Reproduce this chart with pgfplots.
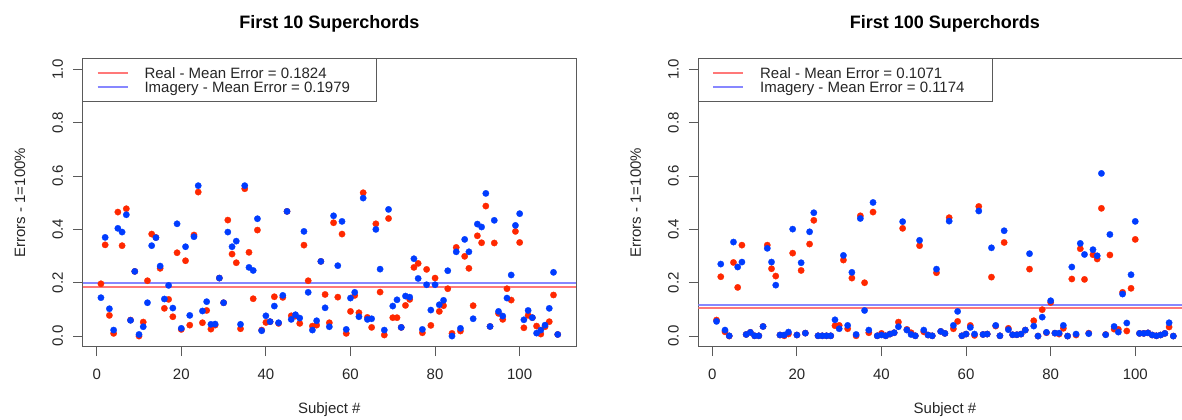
\documentclass[border=0pt]{standalone}
\usepackage{fontspec}
\setmainfont{Liberation Sans}
\usepackage{pgfplots}
\pgfplotsset{compat=1.18}
\usepackage{pgfplotstable}
\definecolor{ptred}{RGB}{255,40,0}
\definecolor{ptblue}{RGB}{0,60,255}
\definecolor{meanred}{RGB}{255,120,120}
\definecolor{meanblue}{RGB}{135,135,255}
\definecolor{boxc}{RGB}{90,90,90}

\pgfplotstableread{
s real imag
1 0.196 0.144
2 0.342 0.370
3 0.0775 0.1025
4 0.010 0.0225
5 0.465 0.404
6 0.339 0.390
7 0.4775 0.455
8 0.060 0.059
9 0.2425 0.2425
10 0.000 0.006
11 0.0525 0.035
12 0.2075 0.125
13 0.3825 0.339
14 0.370 0.369
15 0.254 0.2625
16 0.104 0.139
17 0.1375 0.190
18 0.0725 0.105
19 0.3125 0.421
20 0.025 0.029
21 0.2825 0.335
22 0.041 0.0775
23 0.379 0.3725
24 0.540 0.564
25 0.050 0.094
26 0.096 0.129
27 0.026 0.044
28 0.041 0.045
29 0.2175 0.2175
30 0.125 0.125
31 0.435 0.390
32 0.3075 0.335
33 0.275 0.356
34 0.0275 0.044
35 0.5525 0.564
36 0.314 0.2575
37 0.140 0.246
38 0.3975 0.440
39 0.0225 0.020
40 0.051 0.076
41 0.054 0.054
42 0.1475 0.1125
43 0.0475 0.050
44 0.145 0.1525
45 0.4675 0.4675
46 0.076 0.0625
47 0.075 0.080
48 0.0475 0.0675
49 0.341 0.3925
50 0.2075 0.164
51 0.0375 0.0225
52 0.041 0.0575
53 0.280 0.280
54 0.156 0.106
55 0.050 0.035
56 0.425 0.451
57 0.146 0.264
58 0.3825 0.430
59 0.010 0.025
60 0.0925 0.1425
61 0.1525 0.164
62 0.0875 0.0725
63 0.5375 0.5175
64 0.070 0.0625
65 0.0325 0.065
66 0.421 0.400
67 0.165 0.251
68 0.004 0.0225
69 0.441 0.475
70 0.069 0.1125
71 0.069 0.136
72 0.0325 0.0325
73 0.115 0.150
74 0.1375 0.146
75 0.2575 0.290
76 0.2725 0.216
77 0.0125 0.025
78 0.250 0.1925
79 0.040 0.0975
80 0.2175 0.1925
81 0.0925 0.1175
82 0.114 0.134
83 0.1775 0.245
84 0.010 0.000
85 0.3325 0.316
86 0.019 0.029
87 0.299 0.3625
88 0.254 0.316
89 0.114 0.065
90 0.376 0.420
91 0.350 0.409
92 0.4875 0.535
93 0.036 0.036
94 0.349 0.434
95 0.085 0.0925
96 0.0625 0.075
97 0.1775 0.1425
98 0.135 0.229
99 0.3925 0.415
100 0.351 0.459
101 0.031 0.061
102 0.0775 0.096
103 0.069 0.069
104 0.0375 0.011
105 0.0075 0.0225
106 0.035 0.041
107 0.054 0.104
108 0.154 0.239
109 0.006 0.006
}\tenA

\pgfplotstableread{
s real imag
1 0.060 0.055
2 0.2225 0.270
3 0.016 0.0225
4 0.000 0.001
5 0.276 0.3525
6 0.1825 0.259
7 0.341 0.2775
8 0.006 0.006
9 0.014 0.014
10 0.001 0.001
11 0.001 0.001
12 0.036 0.036
13 0.341 0.329
14 0.2525 0.2775
15 0.225 0.191
16 0.004 0.004
17 0.001 0.004
18 0.008 0.015
19 0.311 0.401
20 0.004 0.004
21 0.246 0.275
22 0.011 0.011
23 0.345 0.391
24 0.434 0.4625
25 0.001 0.001
26 0.001 0.001
27 0.001 0.001
28 0.001 0.001
29 0.039 0.061
30 0.040 0.0275
31 0.285 0.3025
32 0.0275 0.040
33 0.2175 0.239
34 0.001 0.006
35 0.451 0.441
36 0.200 0.096
37 0.0125 0.0225
38 0.465 0.501
39 0.001 0.001
40 0.010 0.004
41 0.001 0.001
42 0.0075 0.0075
43 0.0125 0.0125
44 0.0525 0.035
45 0.404 0.429
46 0.025 0.0225
47 0.0125 0.006
48 0.001 0.001
49 0.339 0.359
50 0.016 0.0225
51 0.004 0.004
52 0.001 0.001
53 0.2375 0.251
54 0.0175 0.0175
55 0.010 0.010
56 0.444 0.431
57 0.0275 0.040
58 0.055 0.0925
59 0.001 0.001
60 0.0075 0.0075
61 0.040 0.0325
62 0.0025 0.0075
63 0.486 0.469
64 0.006 0.006
65 0.0075 0.0075
66 0.221 0.331
67 0.0375 0.040
68 0.001 0.001
69 0.351 0.395
70 0.029 0.024
71 0.005 0.005
72 0.005 0.005
73 0.0075 0.0075
74 0.0225 0.0225
75 0.251 0.309
76 0.0575 0.0375
77 0.000 0.000
78 0.099 0.071
79 0.0125 0.014
80 0.126 0.1325
81 0.011 0.011
82 0.0075 0.011
83 0.029 0.040
84 0.000 0.000
85 0.214 0.259
86 0.004 0.0075
87 0.3275 0.3475
88 0.2125 0.306
89 0.011 0.009
90 0.305 0.324
91 0.289 0.301
92 0.479 0.610
93 0.006 0.005
94 0.304 0.381
95 0.026 0.036
96 0.025 0.015
97 0.164 0.1575
98 0.019 0.049
99 0.179 0.230
100 0.3625 0.430
101 0.010 0.010
102 0.010 0.010
103 0.012 0.012
104 0.004 0.004
105 0.001 0.001
106 0.004 0.004
107 0.010 0.010
108 0.034 0.050
109 0.000 0.000
}\hunA

\newcommand{\fs}{\fontsize{11.25}{13}\selectfont}

\pgfplotsset{rstyle/.style={
  scale only axis, width=370pt, height=216pt,
  xmin=-3.32, xmax=113.32, ymin=-0.04, ymax=1.04,
  xtick={0,20,40,60,80,100}, ytick={0,0.2,0.4,0.6,0.8,1.0},
  yticklabels={0.0,0.2,0.4,0.6,0.8,1.0},
  /pgf/number format/assume math mode=true,
  tick align=outside, major tick length=7pt,
  xtick pos=bottom, ytick pos=left,
  axis line style={boxc, line width=0.75pt},
  tick style={boxc, line width=0.75pt},
  tick label style={font=\fs, text=black!85},
  xticklabel style={anchor=north, inner sep=0pt, yshift=-9.5pt},
  yticklabel style={xshift=-7.5pt, rotate=90, anchor=south, inner sep=0pt},
  title style={at={(axis description cs:0.5,1.077)}, anchor=base, inner sep=0pt, font=\bfseries\fontsize{13.5}{16}\selectfont},
  xlabel style={at={(axis description cs:0.5,-0.219)}, anchor=center, inner sep=0pt, font=\fs, text=black!85},
  ylabel style={at={(axis description cs:-0.127,0.5)}, anchor=center, inner sep=0pt, font=\fs, text=black!85},
  xlabel={Subject \#}, ylabel={Errors - 1=100\%},
  realpts/.style={only marks, mark=*, mark size=2.4pt, mark options={draw=ptred, fill=ptred, line width=0.2pt}},
  imagpts/.style={only marks, mark=*, mark size=2.4pt, mark options={draw=ptblue, fill=ptblue, line width=0.2pt}},
}}

\begin{document}
\begin{tikzpicture}
\useasboundingbox (0,0) rectangle (886.5pt,314.25pt);
\begin{axis}[rstyle, at={(62.0pt,54.2pt)}, anchor=south west, title={First 10 Superchords}]
  \addplot[color=meanred, line width=1.5pt] coordinates {(-3.32,0.1824) (113.32,0.1824)};
  \addplot[color=meanblue, line width=1.5pt] coordinates {(-3.32,0.1979) (113.32,0.1979)};
  \addplot[realpts] table[x=s, y=real] {\tenA};
  \addplot[imagpts] table[x=s, y=imag] {\tenA};
\end{axis}
\begin{axis}[rstyle, at={(523.7pt,54.2pt)}, anchor=south west, title={First 100 Superchords}]
  \addplot[color=meanred, line width=1.5pt] coordinates {(-3.32,0.1071) (113.32,0.1071)};
  \addplot[color=meanblue, line width=1.5pt] coordinates {(-3.32,0.1174) (113.32,0.1174)};
  \addplot[realpts] table[x=s, y=real] {\hunA};
  \addplot[imagpts] table[x=s, y=imag] {\hunA};
\end{axis}
% legends
\foreach \dx/\ma/\mb in {0pt/0.1824/0.1979, 461.7pt/0.1071/0.1174}{
  \begin{scope}[xshift=\dx]
  \draw[boxc, line width=0.75pt, fill=white] (62.0pt,238.0pt) rectangle (282.5pt,270.3pt);
  \draw[color=meanred, line width=1.5pt] (73.3pt,259.3pt) -- (95.8pt,259.3pt);
  \node[anchor=base west, inner sep=0pt, font=\fs, text=black!85] at (108.2pt,255.4pt) {Real - Mean Error = \ma};
  \draw[color=meanblue, line width=1.5pt] (73.3pt,248.8pt) -- (95.8pt,248.8pt);
  \node[anchor=base west, inner sep=0pt, font=\fs, text=black!85] at (108.2pt,244.9pt) {Imagery - Mean Error = \mb};
  \end{scope}
}
\end{tikzpicture}
\end{document}
